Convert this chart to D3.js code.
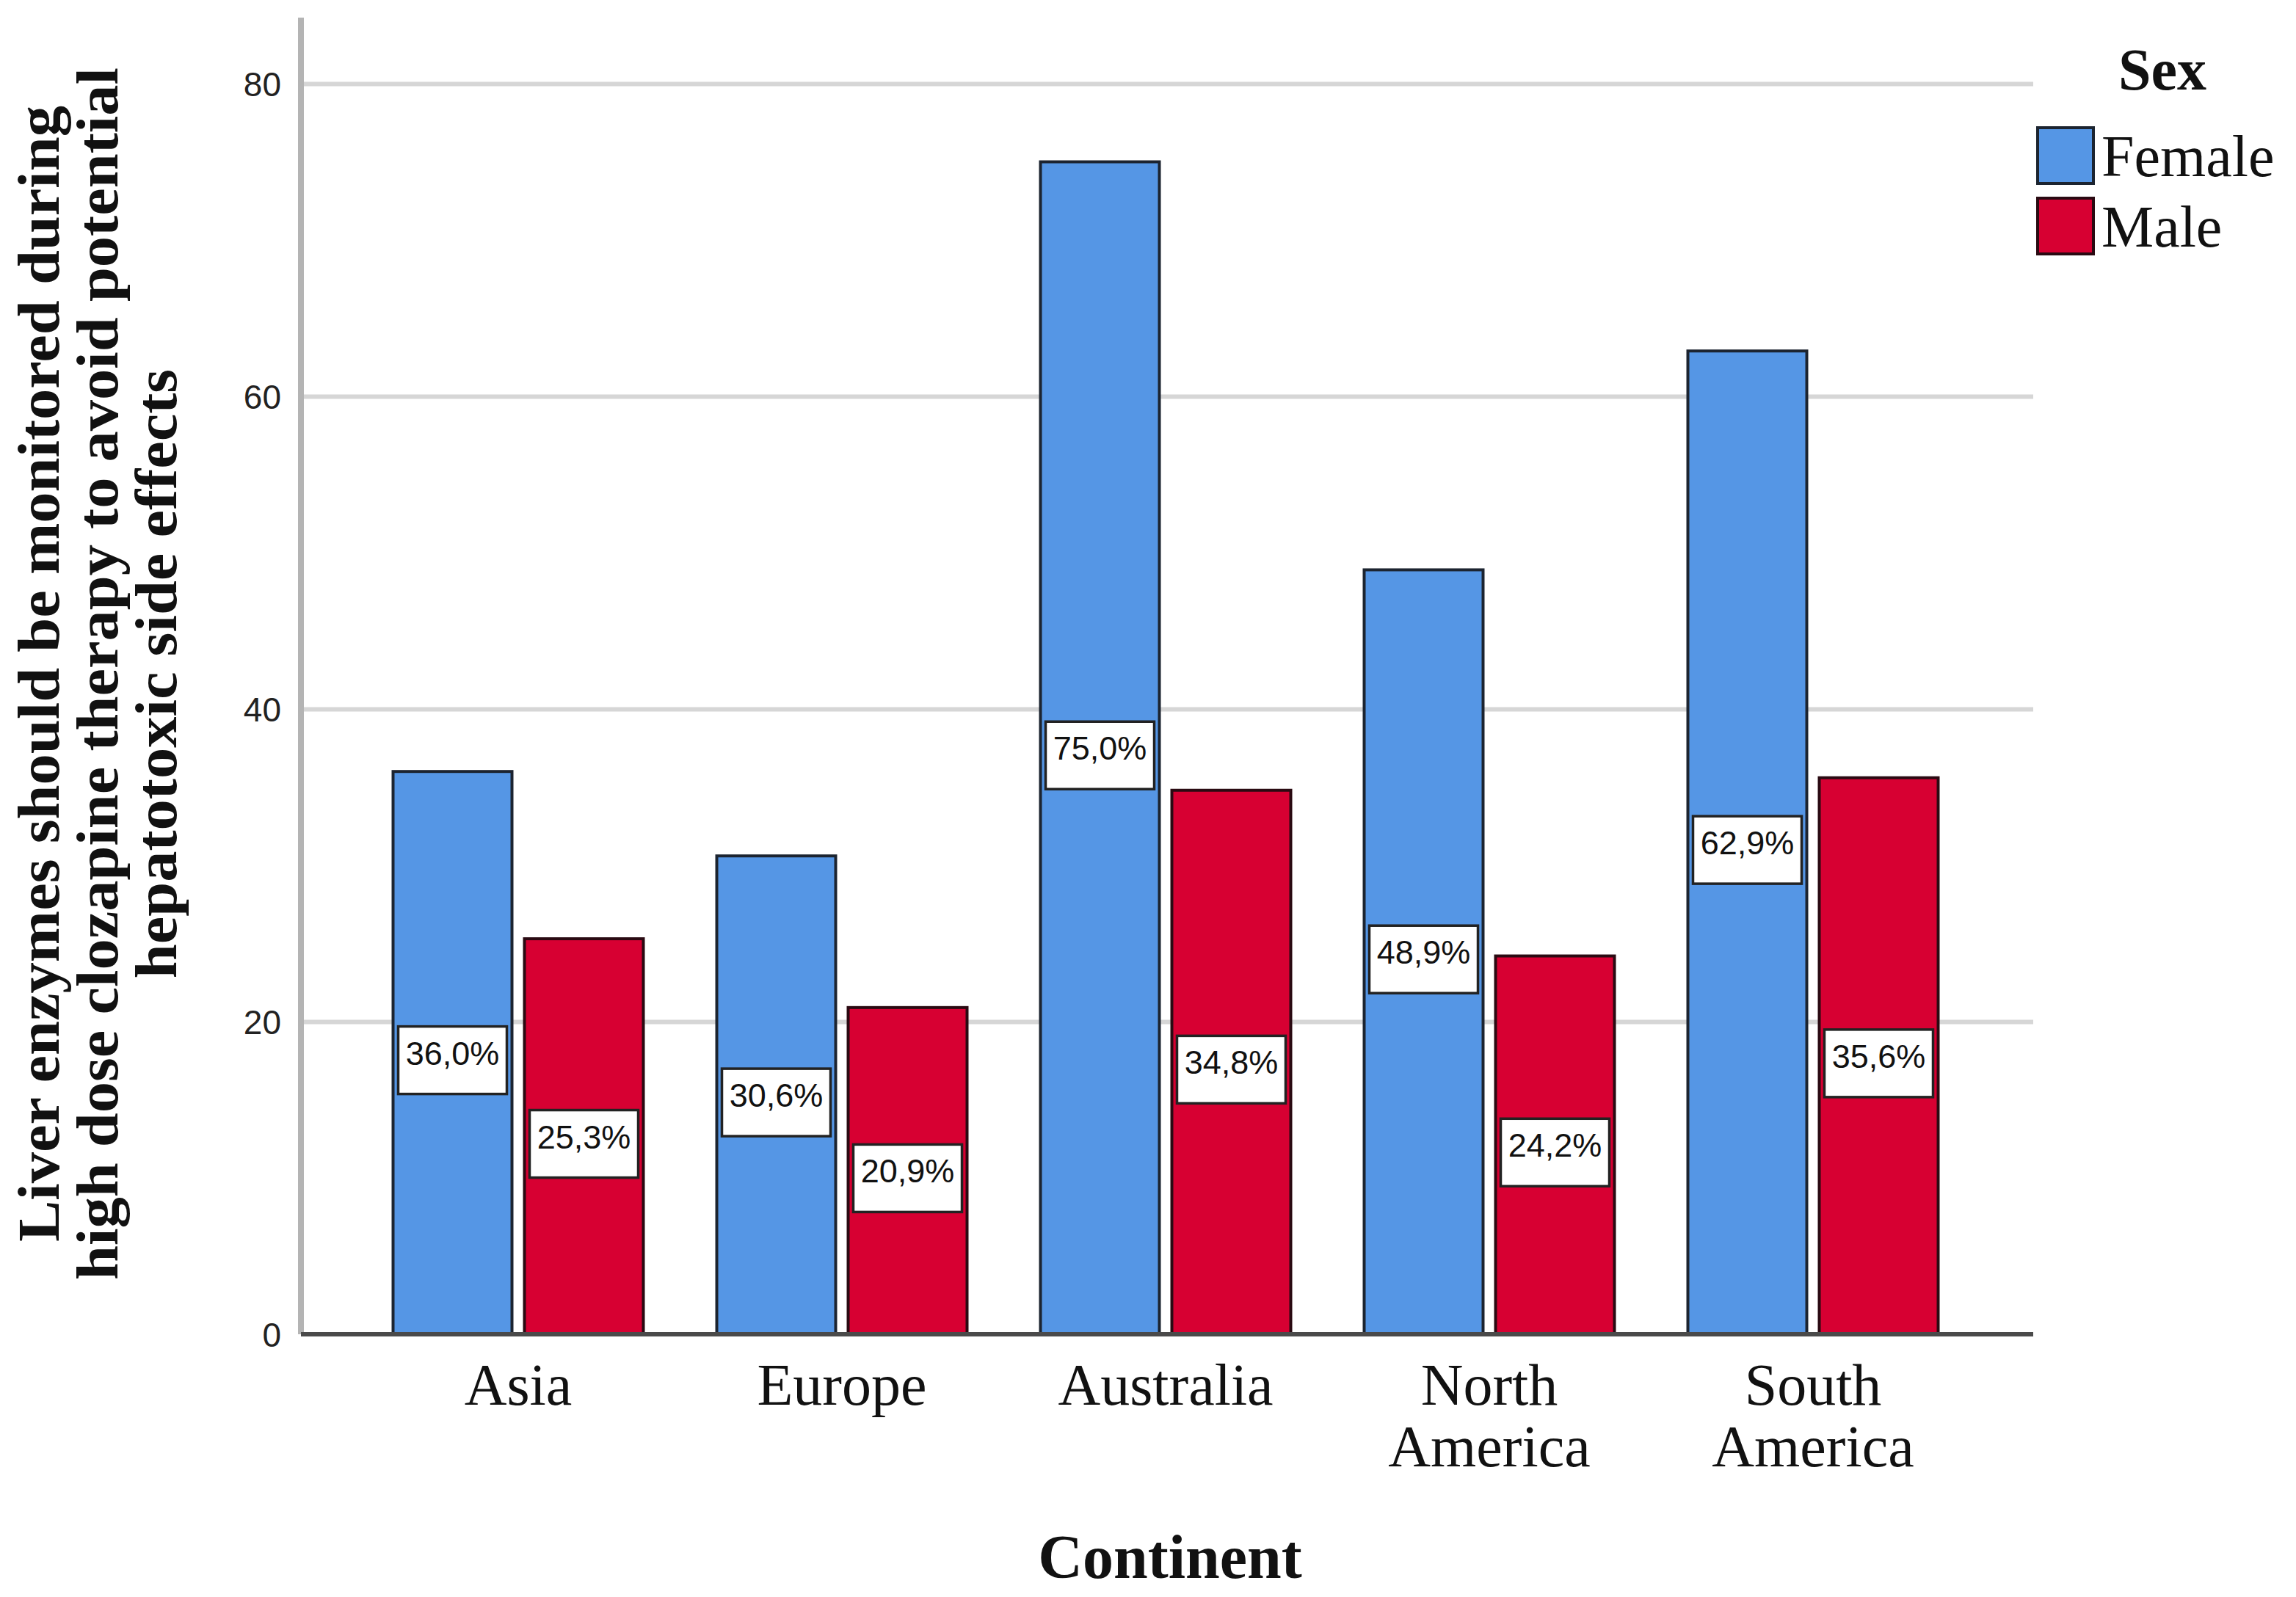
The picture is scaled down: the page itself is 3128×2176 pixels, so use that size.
<!DOCTYPE html>
<html>
<head>
<meta charset="utf-8">
<script src="https://cdn.jsdelivr.net/npm/d3@7"></script>
<style>
  html, body { margin: 0; padding: 0; background: #fff; }
  svg { display: block; }
</style>
</head>
<body>
<svg id="chart" width="3128" height="2176"></svg>
<script>
const categories = ["Asia", "Europe", "Australia", "North America", "South America"];
const sexes = ["Female", "Male"];
const femaleValues = [36.0, 30.6, 75.0, 48.9, 62.9];
const maleValues = [25.3, 20.9, 34.8, 24.2, 35.6];
const yTicks = [0, 20, 40, 60, 80];
const colors = { Female: "#5596E5", Male: "#D70032" };
const strokes = { Female: "#1c2430", Male: "#2a0a12" };

const svg = d3.select("#chart");
const W = 3128, H = 2176;
svg.append("rect").attr("width", W).attr("height", H).attr("fill", "#fff");

const plotLeft = 410, plotRight = 2770, plotTop = 24, plotBottom = 1818;

const y = d3.scaleLinear().domain([0, 80]).range([plotBottom, 114]);
const x = d3.scaleBand().domain(categories).range([485.5, 2690.5]).padding(0);
const xs = d3.scaleBand().domain(sexes).range([-172.5, 172.5]).paddingInner(0.0726).paddingOuter(0);

// gridlines
const grid = svg.append("g").attr("transform", `translate(${plotLeft},0)`)
  .call(d3.axisLeft(y).tickValues(yTicks.filter(d => d > 0)).tickSize(-(plotRight - plotLeft)).tickFormat(""));
grid.select(".domain").remove();
grid.selectAll("line").attr("stroke", "#d6d6d6").attr("stroke-width", 6);

// y axis line
svg.append("line").attr("x1", plotLeft).attr("x2", plotLeft).attr("y1", plotTop).attr("y2", plotBottom)
  .attr("stroke", "#b4b4b4").attr("stroke-width", 8);

// y tick labels
const yAxis = svg.append("g").attr("transform", `translate(${plotLeft},0)`)
  .call(d3.axisLeft(y).tickValues(yTicks).tickSize(0).tickPadding(27).tickFormat(d3.format("d")));
yAxis.select(".domain").remove();
yAxis.selectAll("text").attr("font-family", "Liberation Sans, Arial, sans-serif")
  .attr("font-size", 46).attr("fill", "#222").attr("dy", "0.36em");

// data rows
const rows = [];
categories.forEach((c, i) => {
  rows.push({ cat: c, sex: "Female", value: femaleValues[i] });
  rows.push({ cat: c, sex: "Male", value: maleValues[i] });
});

const barW = xs.bandwidth();
const sw = 4;
const barG = svg.append("g");
barG.selectAll("rect.bar").data(rows).join("rect").attr("class", "bar")
  .attr("x", d => x(d.cat) + x.bandwidth() / 2 + xs(d.sex) + sw / 2)
  .attr("width", barW - sw)
  .attr("y", d => y(d.value))
  .attr("height", d => y(0) - y(d.value))
  .attr("fill", d => colors[d.sex])
  .attr("stroke", d => strokes[d.sex])
  .attr("stroke-width", sw);

// baseline
svg.append("line").attr("x1", plotLeft).attr("x2", plotRight).attr("y1", plotBottom).attr("y2", plotBottom)
  .attr("stroke", "#4a4a4a").attr("stroke-width", 6);

// value labels
const boxW = 148;
const lab = svg.append("g").selectAll("g").data(rows).join("g")
  .attr("transform", d => `translate(${x(d.cat) + x.bandwidth() / 2 + xs(d.sex) + barW / 2},${y(d.value / 2)})`);
lab.append("rect").attr("x", -boxW / 2).attr("y", -36).attr("width", boxW).attr("height", 92)
  .attr("fill", "#fff").attr("stroke", "#222").attr("stroke-width", 3.5);
lab.append("text").attr("text-anchor", "middle").attr("y", 16)
  .attr("font-family", "Liberation Sans, Arial, sans-serif").attr("font-size", 45).attr("fill", "#111")
  .text(d => d.value.toFixed(1).replace(".", ",") + "%");

// x axis category labels
const xAxis = svg.append("g").attr("transform", `translate(0,${plotBottom})`)
  .call(d3.axisBottom(x).tickSize(0).tickFormat(""));
xAxis.select(".domain").remove();
xAxis.selectAll(".tick").each(function (d) {
  const t = d3.select(this).append("text")
    .attr("text-anchor", "middle").attr("font-family", "Liberation Serif, Times New Roman, serif")
    .attr("font-size", 80).attr("fill", "#111");
  d.split(" ").forEach((w, k) => {
    t.append("tspan").attr("x", 0).attr("y", 96 + k * 84).text(w);
  });
});

// axis titles
svg.append("text").attr("x", 1594).attr("y", 2150).attr("text-anchor", "middle")
  .attr("font-family", "Liberation Serif, Times New Roman, serif").attr("font-weight", "bold")
  .attr("font-size", 84).attr("fill", "#111").text("Continent");

const yTitleLines = [
  "Liver enzymes should be monitored during",
  "high dose clozapine therapy to avoid potential",
  "hepatotoxic side effects"
];
const yt = svg.append("text").attr("transform", "translate(0,918) rotate(-90) scale(1.056,1)")
  .attr("text-anchor", "middle").attr("font-family", "Liberation Serif, Times New Roman, serif")
  .attr("font-weight", "bold").attr("font-size", 80).attr("fill", "#111");
yTitleLines.forEach((l, k) => yt.append("tspan").attr("x", 0).attr("y", 80 + k * 80).text(l));

// legend
svg.append("text").attr("x", 2946).attr("y", 122).attr("text-anchor", "middle")
  .attr("font-family", "Liberation Serif, Times New Roman, serif").attr("font-weight", "bold")
  .attr("font-size", 80).attr("fill", "#111").text("Sex");
const leg = svg.append("g").selectAll("g").data(sexes).join("g")
  .attr("transform", (d, i) => `translate(2776,${174 + i * 96})`);
leg.append("rect").attr("width", 76).attr("height", 76)
  .attr("fill", d => colors[d]).attr("stroke", d => strokes[d]).attr("stroke-width", 4);
leg.append("text").attr("x", 87).attr("y", 66)
  .attr("font-family", "Liberation Serif, Times New Roman, serif").attr("font-size", 80).attr("fill", "#111")
  .text(d => d);
</script>
</body>
</html>
